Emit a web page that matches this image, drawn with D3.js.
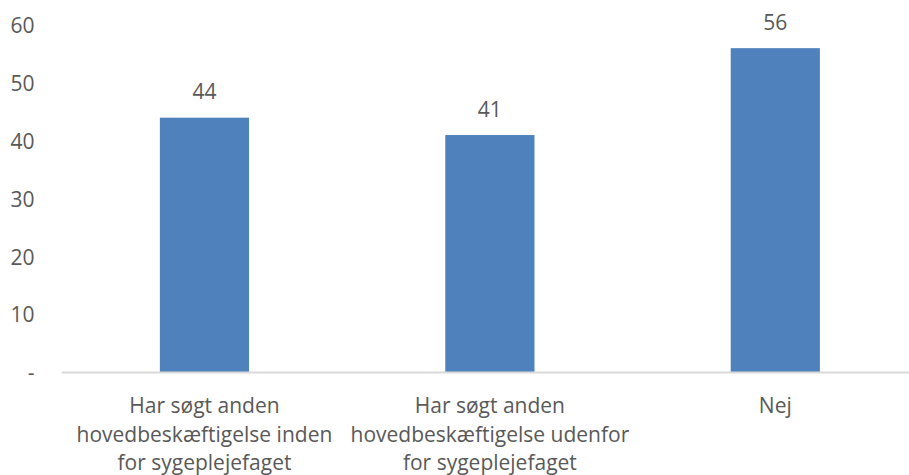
<!DOCTYPE html>
<html>
<head>
<meta charset="utf-8">
<script src="https://cdn.jsdelivr.net/npm/d3@7"></script>
<style>
  html, body { margin: 0; padding: 0; background: #fff; }
  svg { display: block; }
  text { font-family: "Open Sans", "Liberation Sans", sans-serif; fill: #595959; }
</style>
</head>
<body>
<svg id="chart" width="909" height="475"></svg>
<script>
// Answers and shares (%)
const categories = [
  ["Har søgt anden", "hovedbeskæftigelse inden", "for sygeplejefaget"],
  ["Har søgt anden", "hovedbeskæftigelse udenfor", "for sygeplejefaget"],
  ["Nej"]
];
const values = [44, 41, 56];
const yTicks = [0, 10, 20, 30, 40, 50, 60];
const yTickLabels = ["-", "10", "20", "30", "40", "50", "60"];

(function draw() {
  const svg = d3.select("#chart");
  const plotLeft = 61.75, plotRight = 918, plotTop = 25, plotBottom = 372.5;

  const x = d3.scaleBand()
    .domain(d3.range(values.length))
    .range([plotLeft, plotRight])
    .paddingInner(0.6875)
    .paddingOuter(0.34375);

  const y = d3.scaleLinear().domain([0, 60]).range([plotBottom, plotTop]);

  // y-axis labels (no axis line, no ticks)
  const yAxis = d3.axisLeft(y)
    .tickValues(yTicks)
    .tickFormat((d, i) => yTickLabels[i])
    .tickSize(0)
    .tickPadding(0);
  const gy = svg.append("g").attr("transform", "translate(34.5,0)").call(yAxis);
  gy.select(".domain").remove();
  gy.selectAll("text")
    .attr("font-size", 21)
    .attr("font-family", "'Open Sans', sans-serif")
    .attr("fill", "#595959")
    .attr("dy", "0.35em");

  // bars
  svg.append("g").selectAll("rect")
    .data(values)
    .join("rect")
    .attr("x", (d, i) => x(i))
    .attr("width", x.bandwidth())
    .attr("y", d => y(d))
    .attr("height", d => y(0) - y(d))
    .attr("fill", "#4F81BD");

  // baseline
  svg.append("line")
    .attr("x1", plotLeft).attr("x2", plotRight)
    .attr("y1", y(0)).attr("y2", y(0))
    .attr("stroke", "#D9D9D9").attr("stroke-width", 2);

  // value labels
  svg.append("g").selectAll("text")
    .data(values)
    .join("text")
    .attr("x", (d, i) => x(i) + x.bandwidth() / 2)
    .attr("y", d => y(d) - 18.5)
    .attr("text-anchor", "middle")
    .attr("font-size", 21)
    .text(d => d);

  // category labels
  const cat = svg.append("g").selectAll("text")
    .data(categories)
    .join("text")
    .attr("x", (d, i) => x(i) + x.bandwidth() / 2)
    .attr("y", 413)
    .attr("text-anchor", "middle")
    .attr("font-size", 21);
  cat.selectAll("tspan")
    .data(d => d)
    .join("tspan")
    .attr("x", function () { return d3.select(this.parentNode).attr("x"); })
    .attr("dy", (d, i) => i === 0 ? 0 : 28.5)
    .text(d => d);
})();
</script>
</body>
</html>
